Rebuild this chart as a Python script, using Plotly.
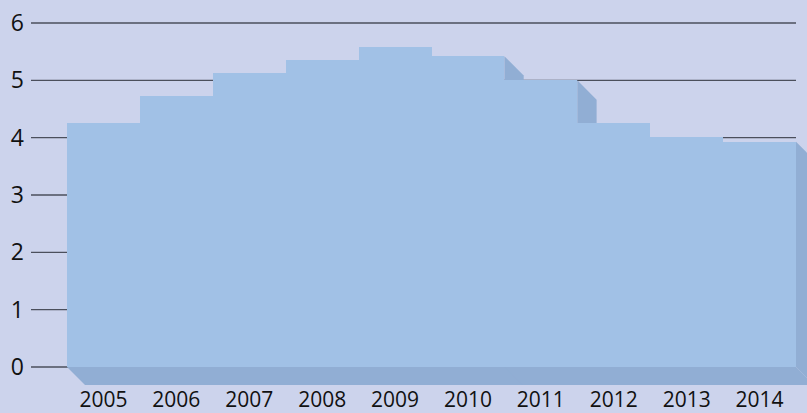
import plotly.graph_objects as go

years = ["2005", "2006", "2007", "2008", "2009", "2010", "2011", "2012", "2013", "2014"]
values = [4.25, 4.72, 5.12, 5.35, 5.58, 5.42, 5.00, 4.25, 4.01, 3.93]
# which bars show a visible right-hand depth face in the original
side_face = [False, False, False, False, False, True, True, False, False, True]
y_ticks = [0, 1, 2, 3, 4, 5, 6]

BG = "#ccd3ec"
BAR = "#a1c1e6"
SIDE = "#91aed4"
GRID = "#4b4f5c"
FONT = "Open Sans"

W, H = 807, 413
ml, mb = 31, 28
px_x = 72.9          # pixels per category
px_y = 57.33         # pixels per unit
depth_px = 19.3
dx = depth_px / px_x
dy = depth_px / px_y

n = len(years)
xs = list(range(n))
x_lo = -0.5 - (67 - ml) / px_x
x_hi = x_lo + (W - ml) / px_x
y_lo = -(H - mb - 367) / px_y
y_hi = y_lo + (H - mb) / px_y

fig = go.Figure()

fig.add_trace(go.Bar(
    x=xs, y=values, width=1, marker=dict(color=BAR, line=dict(width=0)),
    hoverinfo="skip", showlegend=False,
))

# gridlines (behind everything)
for t in y_ticks:
    fig.add_shape(type="line", xref="x", yref="y", x0=x_lo, x1=n - 0.5,
                  y0=t, y1=t, line=dict(color=GRID, width=1.3), layer="below")

# bottom depth face
fig.add_shape(type="path", xref="x", yref="y",
              path=(f"M -0.5,0 L {n - 0.5},0 L {n - 0.5 + dx},{-dy} "
                    f"L {-0.5 + dx},{-dy} Z"),
              fillcolor=SIDE, line=dict(width=0), layer="below")

# right-hand depth faces, beneath the bars
for i, v in enumerate(values):
    if not side_face[i]:
        continue
    x1 = i + 0.5
    path = (f"M {x1},0 L {x1},{v} L {x1 + dx},{v - dy} "
            f"L {x1 + dx},{-dy} Z")
    fig.add_shape(type="path", xref="x", yref="y", path=path,
                  fillcolor=SIDE, line=dict(width=0), layer="below")

fig.update_layout(
    width=W, height=H,
    margin=dict(l=ml, r=0, t=0, b=mb),
    paper_bgcolor=BG, plot_bgcolor=BG,
    font=dict(family=FONT, size=21, color="#111111"),
    xaxis=dict(range=[x_lo, x_hi], tickvals=xs, ticktext=years, showgrid=False,
               zeroline=False, showline=False, ticks="", ticklabelstandoff=0,
               automargin=False, tickfont=dict(size=21)),
    yaxis=dict(range=[y_lo, y_hi], tickvals=y_ticks, showgrid=False,
               zeroline=False, showline=False, ticks="", ticklabelstandoff=6,
               automargin=False, tickfont=dict(size=23)),
    bargap=0,
)

fig.write_html(
    "out.html",
    config={"displayModeBar": False},
    post_script=(f"document.body.style.margin='0';"
                 f"document.body.style.background='{BG}';"
                 f"document.body.style.overflow='hidden';"),
)
